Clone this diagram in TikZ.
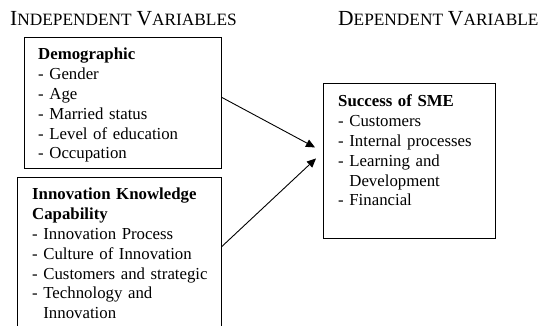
\documentclass[tikz,border=0pt]{standalone}
\usepackage{fontspec}
\setmainfont{Liberation Serif}
\usetikzlibrary{arrows.meta}

% small caps made by hand: big first letter, smaller rest
\newcommand{\scword}[2]{{\fontsize{21.5}{24}\selectfont #1}{\fontsize{17.3}{24}\selectfont #2}}
\newcommand{\gap}{\phantom{-\ }}

\tikzset{
  frame/.style={draw, line width=0.9pt, anchor=north west, inner sep=0pt},
  list/.style={anchor=base west, inner sep=0pt, align=left,
    font=\fontsize{16.8}{19.8}\selectfont},
  head/.style={anchor=base west, inner sep=0pt, font=\fontsize{19.6}{24}\selectfont},
  link/.style={line width=0.9pt, -{Triangle[length=9pt,width=8pt]}}
}

\begin{document}
\begin{tikzpicture}[x=1pt,y=-1pt]
    \clip (0,0) rectangle (539,326);
    \node[head] (indep) at (10,26) {\scword{I}{NDEPENDENT} \scword{V}{ARIABLES}};
    \node[head] (dep) at (338,26) {\scword{D}{EPENDENT} \scword{V}{ARIABLE}};
    \node[frame, minimum width=197pt, minimum height=131pt] (demo) at (24,37) {};
    \node[frame, minimum width=204pt, minimum height=160pt] (ikc) at (17,177) {};
    \node[frame, minimum width=172pt, minimum height=155pt] (sme) at (323,83) {};
    \node[list, text width=175pt] (demolist) at ([xshift=14pt,yshift=-23pt]demo.north west)
      {\textbf{Demographic}\\ - Gender\\ - Age\\ - Married status\\ - Level of education\\ - Occupation};
    \node[list, text width=180pt] (ikclist) at ([xshift=15pt,yshift=-23pt]ikc.north west)
      {\textbf{Innovation Knowledge}\\ \textbf{Capability}\\ - Innovation Process\\
       - Culture of Innovation\\ - Customers and strategic\\ - Technology and\\ \gap Innovation};
    \node[list, text width=150pt] (smelist) at ([xshift=15pt,yshift=-24pt]sme.north west)
      {\textbf{Success of SME}\\ - Customers\\ - Internal processes\\ - Learning and\\
       \gap Development\\ - Financial};
    \draw[link] ([yshift=5.5pt]demo.east) -- ([xshift=-8pt,yshift=13.5pt]sme.west);
    \draw[link] ([yshift=11pt]ikc.east) -- ([xshift=-7pt,yshift=2.5pt]sme.west);
\end{tikzpicture}
\end{document}
